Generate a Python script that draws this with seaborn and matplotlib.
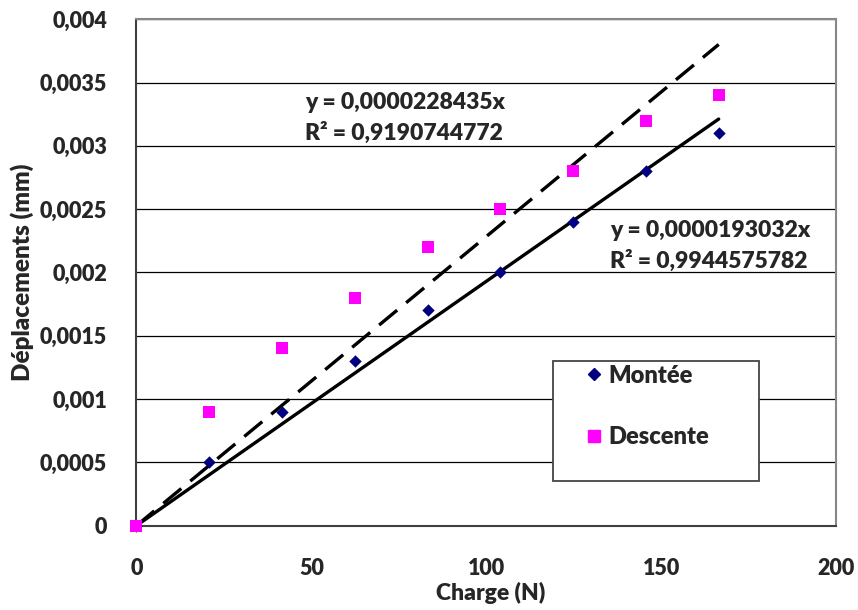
import pandas as pd
import numpy as np
import seaborn as sns
import matplotlib.pyplot as plt
from matplotlib.lines import Line2D
from matplotlib.patches import Rectangle

# data
charge = [0, 20.8, 41.6, 62.4, 83.2, 104, 124.8, 145.6, 166.4]
montee = [0, 0.0005, 0.0009, 0.0013, 0.0017, 0.0020, 0.0024, 0.0028, 0.0031]
descente = [0, 0.0009, 0.0014, 0.0018, 0.0022, 0.0025, 0.0028, 0.0032, 0.0034]

# trend lines (through origin)
slope_montee = 0.0000193032
slope_descente = 0.0000228435
trend_x = [0, 166.4]

x_ticks = [0, 50, 100, 150, 200]
y_ticks = [0, 0.0005, 0.001, 0.0015, 0.002, 0.0025, 0.003, 0.0035, 0.004]
y_labels = ['0', '0,0005', '0,001', '0,0015', '0,002', '0,0025', '0,003', '0,0035', '0,004']

sns.set_style("white")
plt.rcParams['font.family'] = ['Lato', 'DejaVu Sans']

df = pd.DataFrame({'Charge': charge, 'Montée': montee, 'Descente': descente})
df_trend = pd.DataFrame({
    'x': trend_x,
    'montee': [slope_montee * v for v in trend_x],
    'descente': [slope_descente * v for v in trend_x],
})

fig = plt.figure(figsize=(8.58, 6.10), dpi=100)
ax = fig.add_axes([0.1589, 0.1382, 0.8158, 0.8302])

# grid lines
for yv in y_ticks[1:]:
    ax.axhline(yv, color='black', lw=0.9, zorder=0)

# trend lines
sns.lineplot(data=df_trend, x='x', y='montee', ax=ax, color='black', lw=2.4, zorder=2)
sns.lineplot(data=df_trend, x='x', y='descente', ax=ax, color='black', lw=2.4,
             zorder=2)
ax.lines[-1].set_dashes([7, 3.5])

# points
sns.scatterplot(data=df, x='Charge', y='Montée', ax=ax, marker='D', s=40,
                color='#000080', edgecolor='#000080', linewidth=0, zorder=3)
sns.scatterplot(data=df, x='Charge', y='Descente', ax=ax, marker='s', s=80,
                color='#FF00FF', edgecolor='#FF00FF', linewidth=0, zorder=3)
for coll in ax.collections:
    coll.set_clip_on(False)

ax.set_xlim(0, 200)
ax.set_ylim(0, 0.004)
ax.set_xticks(x_ticks)
ax.set_xticklabels([str(t) for t in x_ticks])
ax.set_yticks(y_ticks)
ax.set_yticklabels(y_labels)
ax.tick_params(axis='both', direction='out', length=7, width=1.2, color='#555555',
               labelsize=15.5)
for lab in ax.get_xticklabels() + ax.get_yticklabels():
    lab.set_fontweight('heavy')
ax.tick_params(axis='x', pad=16)
ax.tick_params(axis='y', pad=14)

for side in ['left', 'bottom']:
    ax.spines[side].set_color('#404040')
    ax.spines[side].set_linewidth(1.5)
for side in ['top', 'right']:
    ax.spines[side].set_color('#888888')
    ax.spines[side].set_linewidth(1.5)

ax.set_xlabel('Charge (N)', fontsize=16.5, fontweight='heavy')
ax.set_ylabel('Déplacements (mm)', fontsize=17.5, fontweight='heavy')
ax.yaxis.set_label_coords(-0.146, 0.5)
ax.xaxis.set_label_coords(0.506, -0.111)

# equations
ax.text(48.3, 0.00322, 'y = 0,0000228435x\nR² = 0,9190744772', fontsize=16.5,
        fontweight='heavy', ha='left', va='center', linespacing=1.45)
ax.text(135.3, 0.00221, 'y = 0,0000193032x\nR² = 0,9944575782', fontsize=16.5,
        fontweight='heavy', ha='left', va='center', linespacing=1.45)

# legend box
ax.add_patch(Rectangle((0.595, 0.0889), 0.2946, 0.2363, transform=ax.transAxes,
                       facecolor='white', edgecolor='#444444', lw=1.3, zorder=4))
handles = [
    Line2D([], [], marker='D', color='#000080', ls='none', markersize=6),
    Line2D([], [], marker='s', color='#FF00FF', ls='none', markersize=8.4),
]
leg = ax.legend(handles, ['Montée', 'Descente'], loc='upper left',
                bbox_to_anchor=(0.645, 0.318), frameon=False,
                handlelength=0.5, handletextpad=0.35, labelspacing=1.67,
                borderpad=0, borderaxespad=0,
                prop={'weight': 'heavy', 'size': 17})
leg.set_zorder(5)

fig.savefig('out.png', dpi=100)
